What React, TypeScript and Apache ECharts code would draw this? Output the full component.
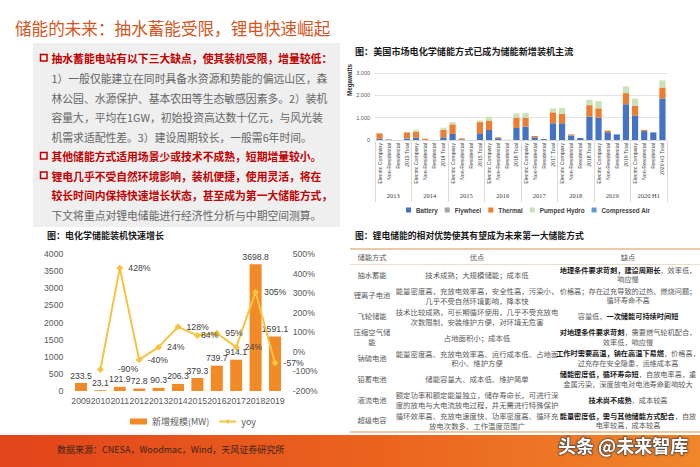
import React, { useEffect, useRef } from 'react';
import * as echarts from 'echarts';

const FONT_CJK = 'Noto Sans CJK SC';
const FONT_LAT = 'Liberation Sans';

// ---------- page texts ----------
const pageTitle = '储能的未来：抽水蓄能受限，锂电快速崛起';
const introLines = [
  '抽水蓄能电站有以下三大缺点，使其装机受限，增量较低：',
  '1）一般仅能建立在同时具备水资源和势能的偏远山区，森',
  '林公园、水源保护、基本农田等生态敏感因素多。2）装机',
  '容量大，平均在1GW，初始投资高达数十亿元，与风光装',
  '机需求适配性差。3）建设周期较长，一般需6年时间。',
  '其他储能方式适用场景少或技术不成熟，短期增量较小。',
  '锂电几乎不受自然环境影响，装机便捷，使用灵活，将在',
  '较长时间内保持快速增长状态，甚至成为第一大储能方式，',
  '下文将重点对锂电储能进行经济性分析与中期空间测算。',
];
const introRedLines = [0, 5, 6, 7];
const introBulletLines = [0, 5, 6];

const usTitle = '图：美国市场电化学储能方式已成为储能新增装机主流';
const growthTitle = '图：电化学储能装机快速增长';
const tableTitle = '图：锂电储能的相对优势使其有望成为未来第一大储能方式';
const sourceText = '数据来源：CNESA，Woodmac，Wind，天风证券研究所';
const watermarkText = '头条 @未来智库';

// ---------- US chart data ----------
const usGroups = ['2013', '2014', '2015', '2016', '2017', '2018', '2019', '2020 H1'];
const usSegments = ['Electric Company', 'Non-Residential', 'Residential', 'Total'];
const usSeriesNames = ['Battery', 'Flywheel', 'Thermal', 'Pumped Hydro', 'Compressed Air'];
// order per year: Electric Company, Non-Residential, Residential, Total
const battery = [
  60, 5, 0, 65,
  100, 10, 0, 120,
  270, 30, 0, 300,
  450, 80, 5, 540,
  600, 120, 40, 750,
  750, 200, 90, 1050,
  1000, 350, 250, 1600,
  1100, 400, 340, 1860,
];
const flywheel = [
  0, 25, 0, 25,
  0, 0, 0, 0,
  0, 0, 0, 0,
  0, 0, 0, 0,
  0, 0, 0, 0,
  0, 0, 0, 0,
  0, 0, 0, 0,
  0, 0, 0, 0,
];
const thermal = [
  240, 10, 0, 250,
  270, 50, 0, 330,
  430, 40, 0, 500,
  420, 40, 0, 460,
  400, 60, 0, 490,
  420, 50, 0, 510,
  420, 70, 0, 500,
  430, 50, 0, 490,
];
const pumpedHydro = [
  20, 0, 0, 25,
  80, 0, 0, 100,
  100, 0, 0, 70,
  170, 0, 0, 190,
  200, 0, 0, 170,
  270, 0, 0, 240,
  320, 0, 0, 300,
  320, 0, 0, 320,
];
const compressedAir = [
  0, 0, 0, 0,
  0, 0, 0, 0,
  0, 0, 0, 0,
  0, 0, 0, 0,
  0, 0, 0, 0,
  0, 0, 0, 0,
  0, 0, 0, 0,
  0, 0, 0, 0,
];

// ---------- growth chart data ----------
const years = ['2009', '2010', '2011', '2012', '2013', '2014', '2015', '2016', '2017', '2018', '2019'];
const newCapacity = [233.5, 23.1, 121.9, 72.8, 90.3, 206.3, 379.3, 739.7, 914.1, 3698.8, 1591.1];
const yoy = [null, -90, 428, -40, 24, 128, 84, 95, 24, 305, -57];
const capacityName = '新增规模(MW)';
const yoyName = 'yoy';

// ---------- table data ----------
const tableHeaders = ['储能方式', '优点', '缺点'];
const tableMethods = ['抽水蓄能', '锂离子电池', '飞轮储能', '压缩空气储\n能', '钠硫电池', '铅蓄电池', '液流电池', '超级电容'];
const tablePros = [
  '技术成熟；大规模储能；成本低',
  '能量密度高，充放电效率高，安全性高，污染小，\n几乎不受自然环境影响，降本快',
  '技术比较成熟，可长期循环使用，几乎不受充放电\n次数限制，安装维护方便，对环境无危害',
  '占地面积小；成本低',
  '能量密度高、充放电效率高、运行成本低、占地面\n积小、维护方便',
  '储能容量大、成本低、维护简单',
  '额定功率和额定能量独立，储存寿命长，可进行深\n度的放电与大电流放电过程，并无需进行特殊保护',
  '循环效率高、充放电速度快、功率密度高、循环充\n放电次数多、工作温度范围广',
];
const tableCons = [
  '{b|地理条件要求苛刻，建设周期长}{n|，效率低，}\n{n|响应慢}',
  '{n|价格高；存在过充导致的过热、燃烧问题；}\n{n|循环寿命不高}',
  '{n|容量低，}{b|一次储能可持续时间短}',
  '{b|对地理条件要求苛刻}{n|，需要燃气轮机配合，}\n{n|效率低，响应慢}',
  '{b|工作时需要高温，钠在高温下易燃}{n|，价格高，}\n{n|过充存在安全隐患，运维成本高}',
  '{b|储能密度低，循环寿命短}{n|，自放电率高，重}\n{n|金属污染，深度放电对电池寿命影响较大}',
  '{b|技术尚不成熟}{n|，成本较高}',
  '{b|能量密度低，需与其他储能方式配合}{n|，自放}\n{n|电率较高，成本较高}',
];

function buildGraphics() {
  const g: any[] = [];
  const txt = (x: number, y: number, text: string, extra: any = {}, elExtra: any = {}) => ({
    type: 'text',
    x,
    y,
    ...elExtra,
    style: { text, fontFamily: FONT_CJK, verticalAlign: 'middle', ...extra },
  });

  // title
  g.push(txt(15, 28, pageTitle, { fill: '#D2561E', fontSize: 16.6 }));
  // grey intro box
  g.push({ type: 'rect', shape: { x: 33, y: 43, width: 307, height: 184 }, style: { fill: '#EFEFEF' } });
  const lineY = [58, 77.5, 97.5, 117, 136.5, 156, 175.5, 195, 215];
  introLines.forEach((line, i) => {
    const red = introRedLines.includes(i);
    if (introBulletLines.includes(i)) {
      g.push({
        type: 'rect',
        shape: { x: 40.5, y: lineY[i] - 3.5, width: 6.5, height: 6.5 },
        style: { fill: 'none', stroke: '#C00000', lineWidth: 1.5 },
      });
    }
    g.push(
      txt(51.5, lineY[i], line, {
        fill: red ? '#C00000' : '#666666',
        fontSize: 10.8,
        fontWeight: red ? 'bold' : 'normal',
      })
    );
  });

  // chart titles
  g.push(txt(355, 51, usTitle, { fill: '#1a1a1a', fontSize: 9.1, fontWeight: 'bold' }));
  g.push(txt(47, 235, growthTitle, { fill: '#1a1a1a', fontSize: 9, fontWeight: 'bold' }));
  g.push(txt(355, 235, tableTitle, { fill: '#1a1a1a', fontSize: 8.8, fontWeight: 'bold' }));

  // y-axis name of the US chart
  g.push(
    txt(349, 80, 'Megawatts', { fill: '#333', fontSize: 6.3, fontWeight: 'bold', fontFamily: FONT_LAT, align: 'center' }, { rotation: Math.PI / 2 })
  );

  // table
  const colX = [372, 477, 628];
  g.push({ type: 'line', shape: { x1: 350, y1: 249, x2: 700, y2: 249 }, style: { stroke: '#E6B688', lineWidth: 1.5 } });
  g.push({ type: 'line', shape: { x1: 350, y1: 264.5, x2: 700, y2: 264.5 }, style: { stroke: '#EBD3B8', lineWidth: 0.8 } });
  g.push({ type: 'line', shape: { x1: 350, y1: 432, x2: 700, y2: 432 }, style: { stroke: '#E6B688', lineWidth: 1.5 } });
  tableHeaders.forEach((h, i) => {
    g.push(txt(colX[i], 257.3, h, { fill: '#595959', fontSize: 7.3, align: 'center' }));
  });
  const rich = {
    b: { fontWeight: 'bold', fill: '#1a1a1a', fontSize: 7.2, fontFamily: FONT_CJK, lineHeight: 9.7, align: 'center' },
    n: { fill: '#595959', fontSize: 7.2, fontFamily: FONT_CJK, lineHeight: 9.7, align: 'center' },
  };
  tableMethods.forEach((m, i) => {
    const y = 274.5 + i * 20.85;
    g.push(txt(colX[0], y, m, { fill: '#595959', fontSize: 7.3, align: 'center', lineHeight: 9.7 }));
    g.push(txt(colX[1], y, tablePros[i], { fill: '#595959', fontSize: 7.4, align: 'center', lineHeight: 9.7 }));
    g.push(txt(colX[2], y, tableCons[i], { align: 'center', rich, fontSize: 7.2 }));
  });

  // footer band
  g.push({
    type: 'rect',
    shape: { x: 0, y: 435, width: 700, height: 32 },
    style: {
      fill: {
        type: 'linear',
        x: 0,
        y: 0,
        x2: 1,
        y2: 0,
        colorStops: [
          { offset: 0, color: '#E2441B' },
          { offset: 0.55, color: '#EB641F' },
          { offset: 1, color: '#F0862A' },
        ],
      },
    },
  });
  g.push(txt(57, 449, sourceText, { fill: '#3a2418', fontSize: 9 }));
  g.push(
    txt(
      558,
      445,
      watermarkText,
      {
        fill: '#FFFFFF',
        fontSize: 18,
        fontWeight: 'bold',
        stroke: '#4a4a4a',
        lineWidth: 1.2,
        textShadowColor: 'rgba(0,0,0,0.45)',
        textShadowBlur: 2,
      },
      { z: 100 }
    )
  );
  return g;
}

export default function App() {
  const ref = useRef<HTMLDivElement>(null);

  useEffect(() => {
    if (!ref.current) return;
    const chart = echarts.init(ref.current, null, { renderer: 'svg' });

    const usCategories: string[] = [];
    usGroups.forEach((y) => {
      usSegments.forEach((s) => usCategories.push(s === 'Total' ? `${y} Total` : s));
    });
    const usData = [battery, flywheel, thermal, pumpedHydro, compressedAir];
    const usColors = ['#4472C4', '#A5A5A5', '#ED7D31', '#C9E3B6', '#5B9BD5'];

    const usSeries = usSeriesNames.map((name, i) => ({
      type: 'bar',
      name,
      stack: 'us',
      xAxisIndex: 0,
      yAxisIndex: 0,
      data: usData[i],
      barWidth: '68%',
      itemStyle: { color: usColors[i] },
      emphasis: { disabled: true },
    }));

    const labelDistance: Record<number, number> = { 1: 14, 6: 0 };
    const yoyData = yoy.map((v, i) =>
      v === null ? null : labelDistance[i] !== undefined ? { value: v, label: { distance: labelDistance[i] } } : v
    );

    const option: any = {
      animation: false,
      textStyle: { fontFamily: FONT_CJK },
      graphic: buildGraphics(),
      legend: [
        {
          data: usSeriesNames.map((n) => ({ name: n, icon: 'rect' })),
          left: 401,
          top: 202,
          itemWidth: 5,
          itemHeight: 5,
          itemGap: 7,
          textStyle: { fontSize: 6.3, fontWeight: 'bold', color: '#404040', fontFamily: FONT_LAT },
        },
        {
          data: [{ name: capacityName, icon: 'rect' }, yoyName],
          left: 125,
          top: 412,
          itemWidth: 17,
          itemHeight: 6,
          itemGap: 9,
          textStyle: { fontSize: 9, color: '#595959', fontFamily: FONT_CJK },
        },
      ],
      grid: [
        { left: 375, top: 73, width: 292, height: 67 },
        { left: 71.3, top: 254, width: 213.4, height: 137 },
      ],
      xAxis: [
        {
          gridIndex: 0,
          type: 'category',
          data: usCategories,
          axisLine: { lineStyle: { color: '#D9D9D9' } },
          axisTick: { show: false },
          axisLabel: { rotate: 90, interval: 0, fontSize: 5.2, color: '#404040', margin: 3, fontFamily: FONT_LAT },
        },
        {
          gridIndex: 0,
          type: 'category',
          data: usGroups,
          position: 'bottom',
          offset: 62,
          axisLine: { show: false },
          axisTick: { show: true, inside: true, length: 60, lineStyle: { color: '#D9D9D9' } },
          axisLabel: { inside: true, margin: 3, interval: 0, fontSize: 6.5, color: '#404040', fontFamily: 'Liberation Serif' },
          splitLine: { show: false },
        },
        {
          gridIndex: 1,
          type: 'category',
          data: years,
          axisLine: { show: false },
          axisTick: { show: false },
          axisLabel: { interval: 0, fontSize: 8.7, color: '#595959', margin: 5, fontFamily: FONT_LAT },
        },
      ],
      yAxis: [
        {
          gridIndex: 0,
          type: 'value',
          min: 0,
          max: 3000,
          interval: 1000,
          axisLine: { show: false },
          axisTick: { show: false },
          splitLine: { lineStyle: { color: '#E3E3E3' } },
          axisLabel: {
            fontSize: 5.5,
            color: '#595959',
            margin: 5,
            fontFamily: FONT_LAT,
            formatter: (v: number) => v.toLocaleString('en-US'),
          },
        },
        {
          gridIndex: 1,
          type: 'value',
          min: 0,
          max: 4000,
          interval: 500,
          axisLine: { show: false },
          axisTick: { show: false },
          splitLine: { show: false },
          axisLabel: { fontSize: 8.7, color: '#595959', margin: 8, fontFamily: FONT_LAT, formatter: (v: number) => String(v) },
        },
        {
          gridIndex: 1,
          type: 'value',
          position: 'right',
          min: -200,
          max: 500,
          interval: 100,
          axisLine: { show: false },
          axisTick: { show: false },
          splitLine: { show: false },
          axisLabel: { fontSize: 8.7, color: '#595959', margin: 8, fontFamily: FONT_LAT, formatter: (v: number) => `${v}%` },
        },
      ],
      series: [
        ...usSeries,
        {
          type: 'bar',
          name: capacityName,
          xAxisIndex: 2,
          yAxisIndex: 1,
          data: newCapacity,
          barWidth: 12,
          itemStyle: { color: '#F28A28' },
          emphasis: { disabled: true },
          label: { show: true, position: 'top', distance: 3, fontSize: 8.7, color: '#404040', fontFamily: FONT_LAT },
        },
        {
          type: 'line',
          name: yoyName,
          xAxisIndex: 2,
          yAxisIndex: 2,
          data: yoyData,
          symbol: 'diamond',
          symbolSize: 7,
          lineStyle: { color: '#F5C342', width: 2 },
          itemStyle: { color: '#F5C342' },
          emphasis: { disabled: true },
          label: {
            show: true,
            position: 'right',
            distance: 5,
            fontSize: 8.7,
            color: '#404040',
            fontFamily: FONT_LAT,
            formatter: (p: any) => `${p.value}%`,
          },
        },
      ],
    };

    chart.setOption(option);
    return () => chart.dispose();
  }, []);

  return <div ref={ref} style={{ position: 'absolute', left: 0, top: 0, width: 700, height: 467 }} />;
}
